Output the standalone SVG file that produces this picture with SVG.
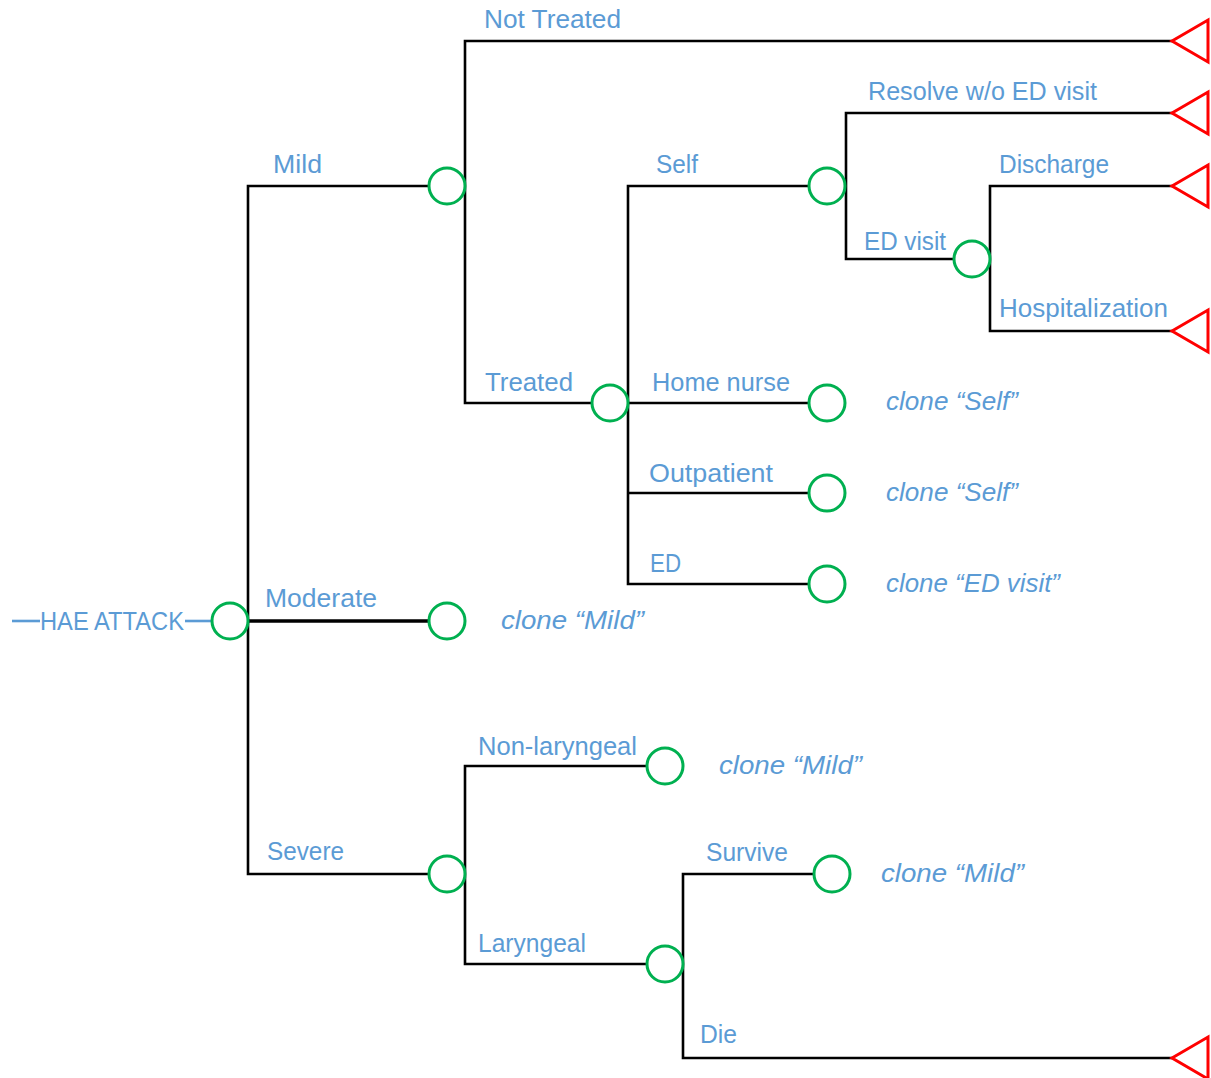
<svg xmlns="http://www.w3.org/2000/svg" width="1211" height="1078" viewBox="0 0 1211 1078">
<defs>
<style>
.ln{stroke:#000;stroke-width:2.6;fill:none;stroke-linecap:square}
.thick{stroke-width:3.6}
.root{stroke:#5B9BD5;stroke-width:2.6;fill:none}
.ch{fill:#fff;stroke:#00B050;stroke-width:3}
.tm{fill:#fff;stroke:#FF0000;stroke-width:3;stroke-linejoin:miter}
.t{font-family:"Liberation Sans",Arial,sans-serif;font-size:26px;fill:#5B9BD5}
.i{font-style:italic}
</style>
<polygon id="tri" points="0,0 36,-21 36,21"/>
</defs>
<rect width="1211" height="1078" fill="#fff"/>

<g id="connectors">
<line class="root" x1="12" y1="621" x2="40" y2="621"/>
<line class="root" x1="185" y1="621" x2="212" y2="621"/>
<path class="ln" d="M248,186 V874 M248,186 H430 M248,874 H430"/>
<path class="ln thick" d="M248,621 H430"/>
<path class="ln" d="M465,41 V403 M465,41 H1172 M465,403 H592"/>
<path class="ln" d="M628,186 V584 M628,186 H810 M628,403 H810 M628,493 H810 M628,584 H810"/>
<path class="ln" d="M846,113 V259 M846,113 H1172 M846,259 H955"/>
<path class="ln" d="M990,186 V331 M990,186 H1172 M990,331 H1172"/>
<path class="ln" d="M465,766 V964 M465,766 H647 M465,964 H647"/>
<path class="ln" d="M683,874 V1058 M683,874 H814 M683,1058 H1172"/>
</g>

<g id="node-root"><circle class="ch" cx="230" cy="621" r="18"/><text class="t" x="40" y="630" textLength="144" lengthAdjust="spacingAndGlyphs">HAE ATTACK</text></g>
<g id="node-mild"><circle class="ch" cx="447" cy="186" r="18"/></g>
<g id="node-moderate"><circle class="ch" cx="447" cy="621" r="18"/><text class="t i" x="501" y="629" textLength="143" lengthAdjust="spacingAndGlyphs">clone “Mild”</text></g>
<g id="node-severe"><circle class="ch" cx="447" cy="874" r="18"/></g>
<g id="node-not-treated"><use href="#tri" class="tm" x="1172" y="41"/></g>
<g id="node-treated"><circle class="ch" cx="610" cy="403" r="18"/></g>
<g id="node-self"><circle class="ch" cx="827" cy="186" r="18"/></g>
<g id="node-home-nurse"><circle class="ch" cx="827" cy="403" r="18"/><text class="t i" x="886" y="410" textLength="132" lengthAdjust="spacingAndGlyphs">clone “Self”</text></g>
<g id="node-outpatient"><circle class="ch" cx="827" cy="493" r="18"/><text class="t i" x="886" y="501" textLength="132" lengthAdjust="spacingAndGlyphs">clone “Self”</text></g>
<g id="node-ed"><circle class="ch" cx="827" cy="584" r="18"/><text class="t i" x="886" y="592" textLength="174" lengthAdjust="spacingAndGlyphs">clone “ED visit”</text></g>
<g id="node-resolve"><use href="#tri" class="tm" x="1172" y="113"/></g>
<g id="node-ed-visit"><circle class="ch" cx="972" cy="259" r="18"/></g>
<g id="node-discharge"><use href="#tri" class="tm" x="1172" y="186"/></g>
<g id="node-hospitalization"><use href="#tri" class="tm" x="1172" y="331"/></g>
<g id="node-non-laryngeal"><circle class="ch" cx="665" cy="766" r="18"/><text class="t i" x="719" y="774" textLength="143" lengthAdjust="spacingAndGlyphs">clone “Mild”</text></g>
<g id="node-laryngeal"><circle class="ch" cx="665" cy="964" r="18"/></g>
<g id="node-survive"><circle class="ch" cx="832" cy="874" r="18"/><text class="t i" x="881" y="882" textLength="143" lengthAdjust="spacingAndGlyphs">clone “Mild”</text></g>
<g id="node-die"><use href="#tri" class="tm" x="1172" y="1058"/></g>

<g id="labels">
<text class="t" x="273" y="173" textLength="49" lengthAdjust="spacingAndGlyphs">Mild</text>
<text class="t" x="265" y="607" textLength="112" lengthAdjust="spacingAndGlyphs">Moderate</text>
<text class="t" x="267" y="860" textLength="77" lengthAdjust="spacingAndGlyphs">Severe</text>
<text class="t" x="484" y="28" textLength="137" lengthAdjust="spacingAndGlyphs">Not Treated</text>
<text class="t" x="485" y="391" textLength="88" lengthAdjust="spacingAndGlyphs">Treated</text>
<text class="t" x="656" y="173" textLength="42" lengthAdjust="spacingAndGlyphs">Self</text>
<text class="t" x="652" y="391" textLength="138" lengthAdjust="spacingAndGlyphs">Home nurse</text>
<text class="t" x="649" y="482" textLength="124" lengthAdjust="spacingAndGlyphs">Outpatient</text>
<text class="t" x="650" y="572" textLength="31" lengthAdjust="spacingAndGlyphs">ED</text>
<text class="t" x="868" y="100" textLength="229" lengthAdjust="spacingAndGlyphs">Resolve w/o ED visit</text>
<text class="t" x="864" y="250" textLength="82" lengthAdjust="spacingAndGlyphs">ED visit</text>
<text class="t" x="999" y="173" textLength="110" lengthAdjust="spacingAndGlyphs">Discharge</text>
<text class="t" x="999" y="317" textLength="169" lengthAdjust="spacingAndGlyphs">Hospitalization</text>
<text class="t" x="478" y="755" textLength="159" lengthAdjust="spacingAndGlyphs">Non-laryngeal</text>
<text class="t" x="478" y="952" textLength="108" lengthAdjust="spacingAndGlyphs">Laryngeal</text>
<text class="t" x="706" y="861" textLength="82" lengthAdjust="spacingAndGlyphs">Survive</text>
<text class="t" x="700" y="1043" textLength="37" lengthAdjust="spacingAndGlyphs">Die</text>
</g>
</svg>
